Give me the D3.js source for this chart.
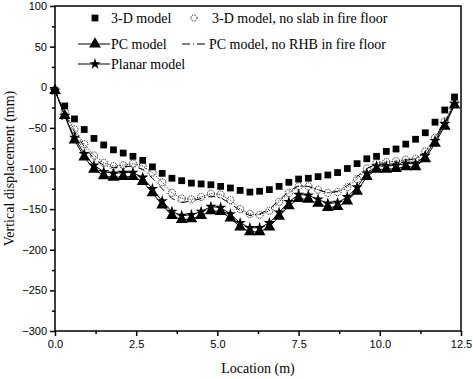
<!DOCTYPE html>
<html>
<head>
<meta charset="utf-8">
<script src="https://cdn.jsdelivr.net/npm/d3@7"></script>
<style>
  body { margin: 0; background: #fff; }
  svg { display: block; }
  .serif { font-family: 'Liberation Serif', 'DejaVu Serif', 'Times New Roman', serif; }
  .sans { font-family: 'Liberation Sans', Arial, sans-serif; }
</style>
</head>
<body>
<div id="chart"></div>
<script>
// location along the beam (m)
const locations = [0, 0.3, 0.6, 0.9, 1.2, 1.5, 1.8, 2.1, 2.4, 2.7, 3.0, 3.3, 3.6, 3.9, 4.2, 4.5, 4.8, 5.1, 5.4, 5.7,
    6.0, 6.3, 6.6, 6.9, 7.2, 7.5, 7.8, 8.1, 8.4, 8.7, 9.0, 9.3, 9.6, 9.9, 10.2, 10.5, 10.8, 11.1, 11.4, 11.7, 12.0, 12.3];

// vertical displacement (mm)
const model3D = [-4, -23, -39, -52, -63, -71, -77, -81, -85, -90, -98, -106, -112, -115, -118, -119, -120, -122, -124, -127,
    -129, -128, -126, -122, -117, -113, -112, -110, -108, -105, -100, -94, -88, -85, -79, -76, -70, -64, -56, -43, -28, -12];
const model3DNoSlab = [-4, -30, -52, -70, -84, -93, -97, -96, -94, -97, -105, -117, -130, -137, -138, -135, -131, -132, -139, -150,
    -156, -157, -152, -141, -130, -122, -122, -126, -130, -129, -123, -113, -100, -93, -92, -91, -89, -88, -79, -62, -42, -18];
const modelPC = [-4, -35, -65, -86, -101, -109, -111, -110, -110, -116, -130, -145, -158, -163, -162, -158, -152, -153, -161, -172,
    -178, -178, -172, -159, -146, -137, -138, -143, -148, -147, -140, -128, -110, -101, -101, -100, -98, -98, -88, -69, -48, -22];
const modelPCNoRHB = [-4, -33, -55, -73, -88, -96, -99, -98, -97, -101, -112, -125, -137, -142, -140, -137, -134, -136, -143, -152,
    -158, -156, -150, -139, -128, -121, -122, -126, -130, -128, -121, -110, -100, -95, -94, -93, -90, -88, -80, -63, -43, -20];
const modelPlanar = [-4, -35, -62, -82, -96, -104, -106, -105, -105, -111, -125, -140, -153, -158, -157, -153, -147, -148, -156, -167,
    -173, -173, -167, -154, -141, -132, -133, -138, -143, -142, -135, -123, -106, -97, -97, -96, -94, -94, -84, -66, -45, -20];

const xTicks = [0, 2.5, 5, 7.5, 10, 12.5];
const yTicks = [100, 50, 0, -50, -100, -150, -200, -250, -300];

const width = 473, height = 379;
const plotLeft = 55, plotRight = 461, plotTop = 6, plotBottom = 331;

const svg = d3.select("#chart").append("svg")
    .attr("width", width)
    .attr("height", height);

const x = d3.scaleLinear().domain([0, 12.5]).range([plotLeft, plotRight]);
const y = d3.scaleLinear().domain([-300, 100]).range([plotBottom, plotTop]);

// frame
svg.append("rect")
    .attr("x", plotLeft).attr("y", plotTop)
    .attr("width", plotRight - plotLeft).attr("height", plotBottom - plotTop)
    .attr("fill", "none").attr("stroke", "#000").attr("stroke-width", 1.5);

// x axis
svg.append("g")
    .attr("transform", `translate(0,${plotBottom})`)
    .call(d3.axisBottom(x).tickValues(xTicks).tickFormat(d3.format(".1f")).tickSizeOuter(0).tickSize(5).tickPadding(4));
svg.append("g")
    .attr("transform", `translate(0,${plotBottom})`)
    .call(d3.axisBottom(x).tickValues(d3.range(1.25, 12.5, 2.5)).tickFormat("").tickSizeOuter(0).tickSize(3));

// y axis
svg.append("g")
    .attr("transform", `translate(${plotLeft},0)`)
    .call(d3.axisLeft(y).tickValues(yTicks).tickSizeOuter(0).tickSize(5).tickPadding(3));
svg.append("g")
    .attr("transform", `translate(${plotLeft},0)`)
    .call(d3.axisLeft(y).tickValues(d3.range(-275, 100, 50)).tickFormat("").tickSizeOuter(0).tickSize(3));

svg.selectAll(".domain").remove();
svg.selectAll(".tick line").attr("stroke", "#000").attr("stroke-width", 1.5);
svg.selectAll("g").attr("font-family", null);
svg.selectAll(".tick text")
    .attr("class", "sans")
    .attr("font-size", 11)
    .attr("fill", "#000");

// axis titles
svg.append("text")
    .attr("class", "serif")
    .attr("x", (plotLeft + plotRight) / 2)
    .attr("y", 373)
    .attr("text-anchor", "middle")
    .attr("font-size", 14)
    .text("Location (m)");

svg.append("text")
    .attr("class", "serif")
    .attr("transform", `translate(14,${(plotTop + plotBottom) / 2}) rotate(-90)`)
    .attr("text-anchor", "middle")
    .attr("font-size", 14)
    .text("Vertical displacement (mm)");

const plotG = svg.append("g");

const line = d3.line()
    .x((d, i) => x(locations[i]))
    .y(d => y(d));

// series definitions
const series = [
    { name: "3-D model", values: model3D, symbol: d3.symbolSquare, size: 46, fill: "#000", stroke: "none", dash: null, drawLine: false },
    { name: "3-D model, no slab in fire floor", values: model3DNoSlab, symbol: d3.symbolCircle, size: 40, fill: "none", stroke: "#000", dash: "1,1.5", drawLine: true },
    { name: "PC model, no RHB in fire floor", values: modelPCNoRHB, symbol: null, dash: "7,3,1,3", drawLine: true },
    { name: "Planar model", values: modelPlanar, symbol: d3.symbolStar, size: 40, fill: "#000", stroke: "none", dash: null, drawLine: true },
    { name: "PC model", values: modelPC, symbol: d3.symbolTriangle, size: 60, fill: "#000", stroke: "none", dash: null, drawLine: true }
];

series.forEach(s => {
    if (s.drawLine) {
        plotG.append("path")
            .datum(s.values)
            .attr("d", line)
            .attr("fill", "none")
            .attr("stroke", "#000")
            .attr("stroke-width", 1)
            .attr("stroke-dasharray", s.dash);
    }
    if (s.symbol) {
        plotG.selectAll(null)
            .data(s.values)
            .enter()
            .append("path")
            .attr("transform", (d, i) => `translate(${x(locations[i])},${y(d)})`)
            .attr("d", d3.symbol().type(s.symbol).size(s.size))
            .attr("fill", s.fill)
            .attr("stroke", s.stroke)
            .attr("stroke-width", 1)
            .attr("stroke-dasharray", s.stroke === "none" ? null : "1,1");
    }
});

// legend
const legend = svg.append("g")
    .attr("class", "serif")
    .attr("font-size", 14);

const legendItems = [
    { label: "3-D model", lx: 95, ly: 18, tx: 111, symbol: d3.symbolSquare, size: 46, fill: "#000", line: false },
    { label: "3-D model, no slab in fire floor", lx: 194, ly: 18, tx: 212, symbol: d3.symbolCircle, size: 30, fill: "none", line: false },
    { label: "PC model", lx: 95, ly: 44, tx: 111, symbol: d3.symbolTriangle, size: 60, fill: "#000", line: true, x0: 78, x1: 110 },
    { label: "PC model, no RHB in fire floor", lx: 195, ly: 44, tx: 209, symbol: null, line: true, x0: 182, x1: 207, dash: "8,3,1,3" },
    { label: "Planar model", lx: 95, ly: 64, tx: 111, symbol: d3.symbolStar, size: 40, fill: "#000", line: true, x0: 78, x1: 110 }
];

legendItems.forEach(d => {
    if (d.line) {
        legend.append("line")
            .attr("x1", d.x0).attr("x2", d.x1)
            .attr("y1", d.ly).attr("y2", d.ly)
            .attr("stroke", "#000")
            .attr("stroke-width", 1)
            .attr("stroke-dasharray", d.dash || null);
    }
    if (d.symbol) {
        legend.append("path")
            .attr("transform", `translate(${d.lx},${d.ly})`)
            .attr("d", d3.symbol().type(d.symbol).size(d.size))
            .attr("fill", d.fill)
            .attr("stroke", d.fill === "none" ? "#000" : "none")
            .attr("stroke-dasharray", d.fill === "none" ? "1,1" : null);
    }
    legend.append("text")
        .attr("x", d.tx)
        .attr("y", d.ly + 5)
        .text(d.label);
});
</script>
</body>
</html>
